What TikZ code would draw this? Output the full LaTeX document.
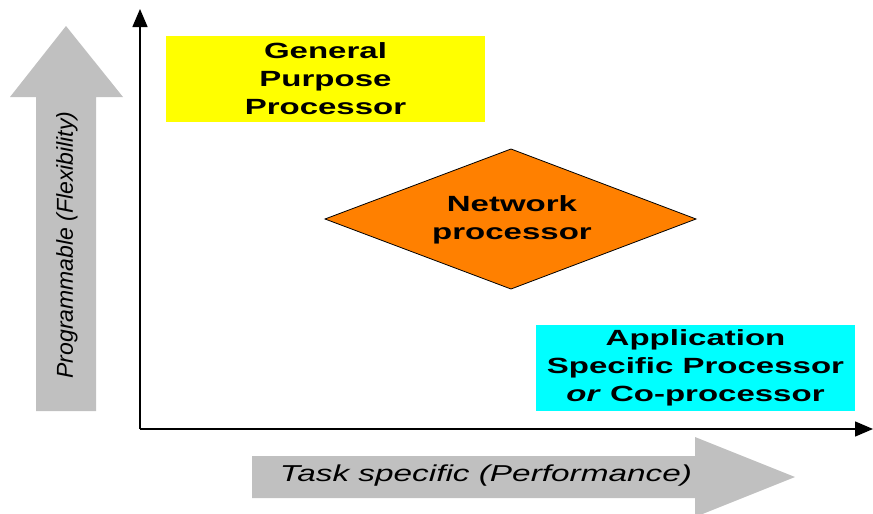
\documentclass[tikz,border=0pt]{standalone}
\usepackage{fontspec}
\setmainfont{Liberation Sans}
\newfontfamily\widesans[FakeStretch=1.5]{Liberation Sans}
\newfontfamily\widesanslabel[FakeStretch=1.45]{Liberation Sans}
\usetikzlibrary{arrows.meta}
\definecolor{bandgray}{HTML}{C0C0C0}
\definecolor{gpyellow}{HTML}{FFFF00}
\definecolor{nporange}{HTML}{FF8000}
\definecolor{ascyan}{HTML}{00FFFF}
\tikzset{
  axisline/.style={line width=1.4pt, -{Triangle[width=15pt,length=18pt]}},
  procbox/.style={rectangle, inner sep=0pt, align=center,
    font=\widesans\fontsize{22}{28}\selectfont\bfseries},
  bandtext/.style={font=\widesanslabel\fontsize{23}{27}\selectfont\itshape},
  sidetext/.style={font=\fontsize{23}{27}\selectfont\itshape},
}
\begin{document}
\begin{tikzpicture}[x=1pt,y=-1pt]
\useasboundingbox (0,0) rectangle (873,514);

% broad grey direction arrows
\fill[bandgray] (36,411) -- (36,97) -- (10,97) -- (66,26) -- (123,97)
  -- (96,97) -- (96,411) -- cycle;
\fill[bandgray] (252,456) -- (695,456) -- (695,437) -- (795,477)
  -- (695,517) -- (695,498) -- (252,498) -- cycle;
\node[sidetext, rotate=90] (ylabel) at (67,245) {Programmable (Flexibility)};
\node[bandtext] (xlabel) at (486,476) {Task specific (Performance)};

% axes
\coordinate (origin) at (140,429);
\coordinate (ytip) at (140,9);
\coordinate (xtip) at (873,429);
\draw[axisline] (origin) -- (ytip);
\draw[axisline] (origin) -- (xtip);

% processor classes
\node[procbox, fill=gpyellow, minimum width=319pt, minimum height=86pt]
  (gpp) at (325.5,79) {General\\Purpose\\Processor};
\fill[nporange, draw=black, line width=0.8pt]
  (325,219) -- (511,149) -- (696,219) -- (511,289) -- cycle;
\node[procbox] (np) at (512,220) {Network\\processor};
\node[procbox, fill=ascyan, minimum width=319pt, minimum height=86pt]
  (asp) at (695.5,368) {Application\\Specific Processor\\\textit{or} Co-processor};
\end{tikzpicture}
\end{document}
